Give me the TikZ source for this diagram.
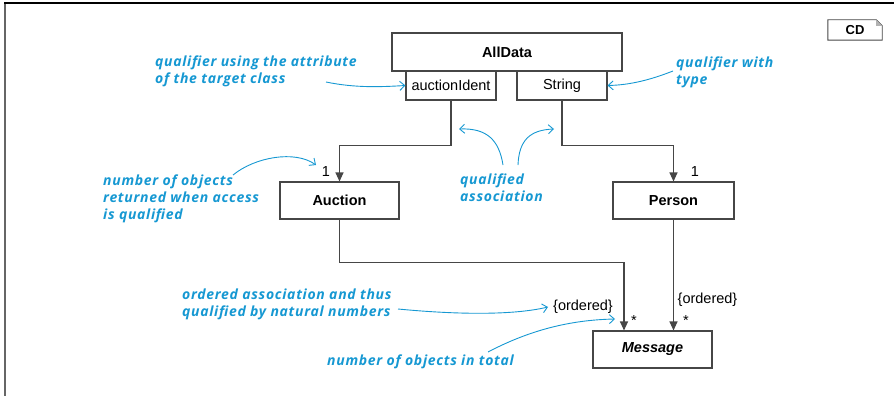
\documentclass[tikz,border=0pt]{standalone}
\usepackage{fontspec}
\setmainfont{Liberation Sans}
\newfontfamily\notefont{Open Sans}[LetterSpace=5]
\usetikzlibrary{arrows.meta}
\definecolor{notecol}{RGB}{22,152,210}
\definecolor{edgecol}{RGB}{70,70,70}
\begin{document}
\begin{tikzpicture}[x=1pt,y=-1pt,
  umlbox/.style={draw=edgecol,line width=1.1pt,fill=white,inner sep=0pt,
    font=\fontsize{14.5}{17}\selectfont},
  clsname/.style={umlbox,font=\bfseries\fontsize{14.5}{17}\selectfont},
  assoc/.style={draw=edgecol,line width=1.1pt,-{Triangle[length=9pt,width=8pt]}},
  lbl/.style={inner sep=0pt,font=\fontsize{14.5}{17}\selectfont},
  note/.style={inner sep=0pt,anchor=north west,align=left,text=notecol,
    font=\notefont\bfseries\itshape\fontsize{14}{17}\selectfont},
  notearrow/.style={draw=notecol,line width=0.9pt,-{Straight Barb[length=5pt,width=9pt]}}]
\useasboundingbox (0,0) rectangle (894,396);

% diagram frame
\draw[gray!80!black,line width=2pt] (5,3) -- (5,396);
\draw[black,line width=1.2pt] (4,3) -- (894,3);

% diagram kind tag with folded corner
\node[inner sep=0pt,minimum width=54pt,minimum height=20pt,
      font=\bfseries\fontsize{13}{15}\selectfont] (cd) at (855,30) {CD};
\draw[edgecol,line width=0.9pt] (cd.south west) -- (cd.north west) -- ([xshift=-6pt]cd.north east)
  -- ([yshift=-6pt]cd.north east) -- (cd.south east) -- cycle;
\fill[gray!60] ([xshift=-6pt]cd.north east) -- ([yshift=-6pt]cd.north east) -- ([xshift=-6pt,yshift=-6pt]cd.north east) -- cycle;

% classes
\node[clsname,minimum width=230pt,minimum height=38pt] (alldata) at (507,52) {AllData};
\node[umlbox,minimum width=90pt,minimum height=29pt] (qident) at (451,85.5) {auctionIdent};
\node[umlbox,minimum width=90pt,minimum height=29pt] (qstring) at (562,85.5) {String};
\node[clsname,minimum width=119pt,minimum height=37pt] (auction) at (339.5,200.5) {Auction};
\node[clsname,minimum width=121pt,minimum height=37pt] (person) at (673.5,200.5) {Person};
\node[clsname,minimum width=119pt,minimum height=37pt,
      font=\bfseries\itshape\fontsize{14.5}{17}\selectfont] (message) at (652.5,349.5) {Message};

% associations
\draw[assoc] (qident.south) -- ++(0,45) -| (auction.north);
\draw[assoc] (qstring.south) -- ++(0,45) -| (person.north);
\draw[assoc] (auction.south) -- ++(0,43) -| ([xshift=-28.5pt]message.north);
\draw[assoc] (person.south) -- (person.south |- message.north);

% multiplicities and constraints
\node[lbl] (m1) at (326,172) {1};
\node[lbl] (m2) at (695,172) {1};
\node[lbl] (ord1) at (583,307) {\{ordered\}};
\node[lbl] (ord2) at (707.5,300) {\{ordered\}};
\node[lbl] (s1) at (634,321) {*};
\node[lbl] (s2) at (686,321) {*};

% annotations
\node[note] (n1) at (155,56) {qualifier using the attribute\\of the target class};
\node[note] (n2) at (676,57) {qualifier with\\type};
\node[note] (n3) at (103,175) {number of objects\\returned when access\\is qualified};
\node[note] (n4) at (460,174) {qualified\\association};
\node[note] (n5) at (182,289) {ordered association and thus\\qualified by natural numbers};
\node[note] (n6) at (327,355) {number of objects in total};

\coordinate (a1) at (326,82);
\coordinate (a2) at (673,71);
\coordinate (a3) at (233,175);
\coordinate (a3e) at (316,165);
\coordinate (a4) at (503,165);
\coordinate (a4e) at (459,129);
\coordinate (a5) at (518,165);
\coordinate (a5e) at (554,129);
\coordinate (a6) at (398,309);
\coordinate (a6e) at (548,307);
\coordinate (a7) at (488,352);
\coordinate (a7e) at (615,319);

\draw[notearrow] (a1) .. controls (355,88) and (380,87) .. (qident.west);
\draw[notearrow] (a2) .. controls (650,80) and (630,85) .. (qstring.east);
\draw[notearrow] (a3) .. controls (255,157) and (295,150) .. (a3e);
\draw[notearrow] (a4) .. controls (499,140) and (487,128) .. (a4e);
\draw[notearrow] (a5) .. controls (519,140) and (530,130) .. (a5e);
\draw[notearrow] (a6) .. controls (450,314) and (510,316) .. (a6e);
\draw[notearrow] (a7) .. controls (530,330) and (570,320) .. (a7e);
\end{tikzpicture}
\end{document}
